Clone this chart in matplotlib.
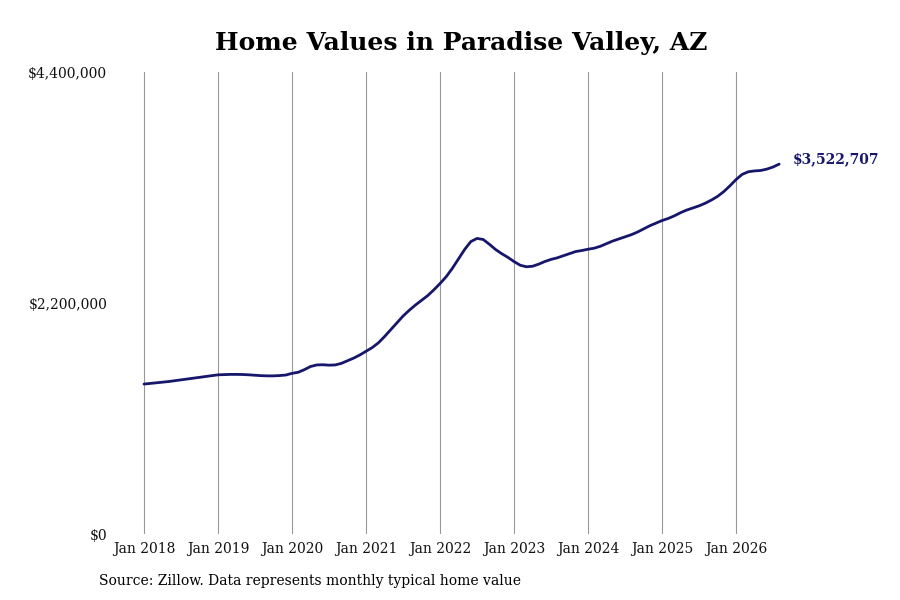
import matplotlib
matplotlib.use("Agg")
import matplotlib.pyplot as plt
from matplotlib.ticker import FuncFormatter

# Monthly typical home value (USD thousands), Jan 2018 .. Aug 2026
values_2018 = [1428, 1434, 1440, 1446, 1452, 1460, 1468, 1476, 1484, 1492, 1500, 1508]
values_2019 = [1516, 1518, 1520, 1520, 1519, 1516, 1512, 1508, 1506, 1506, 1509, 1514]
values_2020 = [1530, 1540, 1565, 1595, 1610, 1612, 1608, 1610, 1625, 1650, 1675, 1705]
values_2021 = [1740, 1775, 1820, 1880, 1945, 2010, 2075, 2130, 2180, 2225, 2270, 2325]
values_2022 = [2385, 2450, 2530, 2620, 2710, 2785, 2815, 2805, 2760, 2710, 2670, 2635]
values_2023 = [2595, 2560, 2545, 2550, 2570, 2595, 2615, 2630, 2650, 2670, 2690, 2700]
values_2024 = [2712, 2722, 2740, 2765, 2790, 2810, 2830, 2850, 2875, 2905, 2935, 2960]
values_2025 = [2985, 3005, 3030, 3060, 3085, 3105, 3125, 3150, 3180, 3215, 3260, 3315]
values_2026 = [3375, 3425, 3450, 3458, 3462, 3475, 3495, 3522.707]

start_year = 2018
tick_years = [2018, 2019, 2020, 2021, 2022, 2023, 2024, 2025, 2026]
tick_labels = [f"Jan {y}" for y in tick_years]
y_ticks = [0, 2200000, 4400000]
title = "Home Values in Paradise Valley, AZ"
source = "Source: Zillow. Data represents monthly typical home value"

values = (values_2018 + values_2019 + values_2020 + values_2021 + values_2022 +
          values_2023 + values_2024 + values_2025 + values_2026)
values = [v * 1000 for v in values]
xs = [start_year + i / 12 for i in range(len(values))]

plt.rcParams['font.family'] = ['DejaVu Serif']
navy = "#16166a"

fig = plt.figure(figsize=(9, 6), dpi=100)
ax = fig.add_axes([110 / 900, 1 - 534 / 600, 700 / 900, 462 / 600])

ax.plot(xs, values, color=navy, linewidth=2.0, solid_capstyle='round')

ax.set_xlim(2018 - 34 / 74, 2018 + 666 / 74)
ax.set_ylim(0, 4400000)
ax.set_xticks(tick_years)
ax.set_xticklabels(tick_labels)
ax.set_yticks(y_ticks)
ax.yaxis.set_major_formatter(FuncFormatter(lambda v, p: f"${v:,.0f}"))

ax.grid(axis='x', color='#999999', linewidth=0.8)
ax.grid(axis='y', visible=False)
for s in ax.spines.values():
    s.set_visible(False)
ax.tick_params(axis='both', length=0, labelsize=10, colors='#111111')
ax.tick_params(axis='y', pad=2)
ax.tick_params(axis='x', pad=6)

ax.annotate(f"${values[-1]:,.0f}", xy=(xs[-1], values[-1]), xytext=(10, 3.5),
            textcoords='offset points', color=navy, fontsize=10, fontweight='bold',
            va='center', ha='left')

fig.text(461 / 900, 1 - 43 / 600, title, ha='center', va='center',
         fontsize=18, fontweight='bold', color='black')
fig.text(99 / 900, 1 - 581 / 600, source, ha='left', va='center',
         fontsize=10, color='black')

fig.savefig("out.png", dpi=100)
